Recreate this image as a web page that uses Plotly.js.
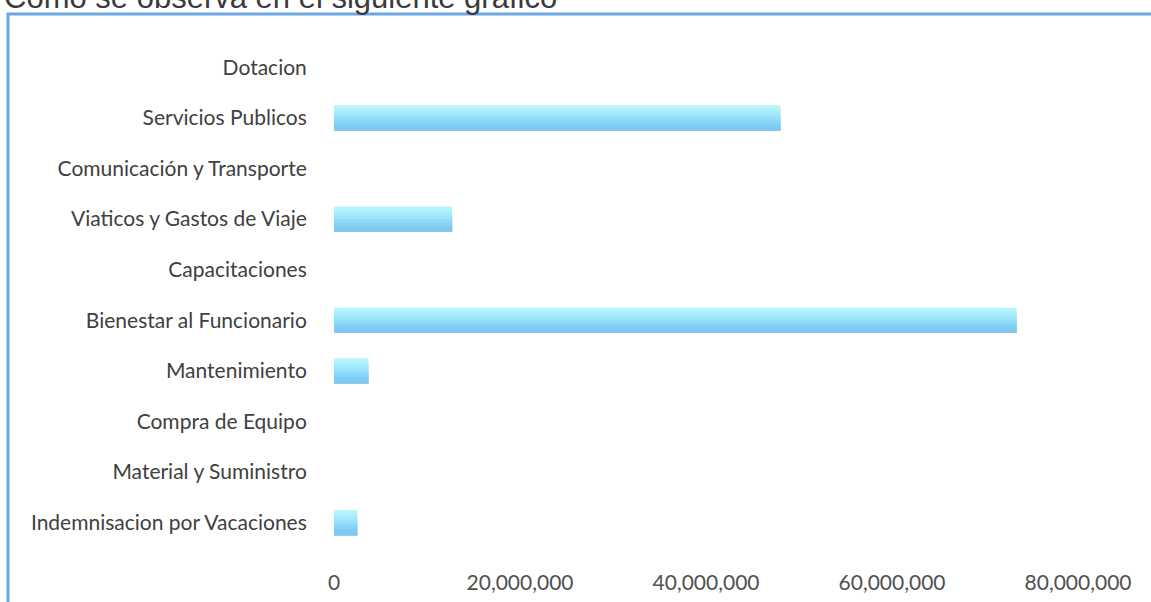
<!DOCTYPE html>
<html>
<head>
<meta charset="utf-8">
<script src="https://cdn.plot.ly/plotly-3.0.1.min.js"></script>
<style>
  html, body { margin: 0; padding: 0; background: #ffffff; }
  #chart { width: 1151px; height: 602px; }
</style>
</head>
<body>
<div id="chart"></div>
<script>
const categories = [
  "Dotacion",
  "Servicios Publicos",
  "Comunicación y Transporte",
  "Viaticos y Gastos de Viaje",
  "Capacitaciones",
  "Bienestar al Funcionario",
  "Mantenimiento",
  "Compra de Equipo",
  "Material y Suministro",
  "Indemnisacion por Vacaciones"
];
const values = [0, 48000000, 0, 12700000, 0, 73400000, 3700000, 0, 0, 2500000];
const tickValues = [0, 20000000, 40000000, 60000000, 80000000];
const tickLabels = ["0", "20,000,000", "40,000,000", "60,000,000", "80,000,000"];
const headingText = "Como se observa en el siguiente grafico";

// gradient look: the same bars drawn as nested slices, light cyan on top to sky blue at bottom
const gradientStops = ["#b8f5fb", "#aef0fb", "#a4eafa", "#9ae3f9", "#90dbf8", "#86d3f7", "#7ecbf6", "#84c6ec"];
const barWidth = 0.5;
const step = barWidth / gradientStops.length;
const traces = gradientStops.map((c, i) => ({
  type: "bar",
  orientation: "h",
  y: categories,
  x: values,
  offset: -barWidth / 2 + i * step,
  width: barWidth - i * step,
  marker: { color: c, line: { width: 0 } },
  hoverinfo: i === 0 ? "x+y" : "skip"
}));

const layout = {
  width: 1151,
  height: 602,
  margin: { l: 334, r: 73, t: 42, b: 54 },
  paper_bgcolor: "#ffffff",
  plot_bgcolor: "#ffffff",
  barmode: "overlay",
  showlegend: false,
  font: { family: "Lato, 'Noto Sans', sans-serif", color: "#404040", size: 21 },
  xaxis: {
    range: [0, 80000000],
    tickvals: tickValues,
    ticktext: tickLabels,
    showgrid: false,
    zeroline: false,
    showline: false,
    ticks: "outside",
    ticklen: 16,
    tickcolor: "rgba(0,0,0,0)",
    tickfont: { size: 21, color: "#505050" },
    fixedrange: true
  },
  yaxis: {
    autorange: "reversed",
    type: "category",
    showgrid: false,
    zeroline: false,
    showline: false,
    ticks: "outside",
    ticklen: 22,
    tickcolor: "rgba(0,0,0,0)",
    tickfont: { size: 21, color: "#404040" },
    fixedrange: true
  },
  shapes: [
    {
      type: "rect", xref: "paper", yref: "paper",
      x0: (8 - 334) / 744, x1: (1160 - 334) / 744,
      y0: (548 - 615) / 506, y1: (548 - 14) / 506,
      line: { color: "#6aa6e0", width: 3 },
      fillcolor: "rgba(0,0,0,0)",
      layer: "below"
    }
  ],
  annotations: [
    {
      text: headingText,
      xref: "paper", yref: "paper",
      x: (2 - 334) / 744, xanchor: "left",
      y: (548 + 3) / 506, yanchor: "middle",
      showarrow: false,
      font: { family: "Liberation Sans, Arial, sans-serif", size: 31, color: "#3a3a3a" }
    }
  ]
};

Plotly.newPlot("chart", traces, layout, { displayModeBar: false, staticPlot: true });
</script>
</body>
</html>
